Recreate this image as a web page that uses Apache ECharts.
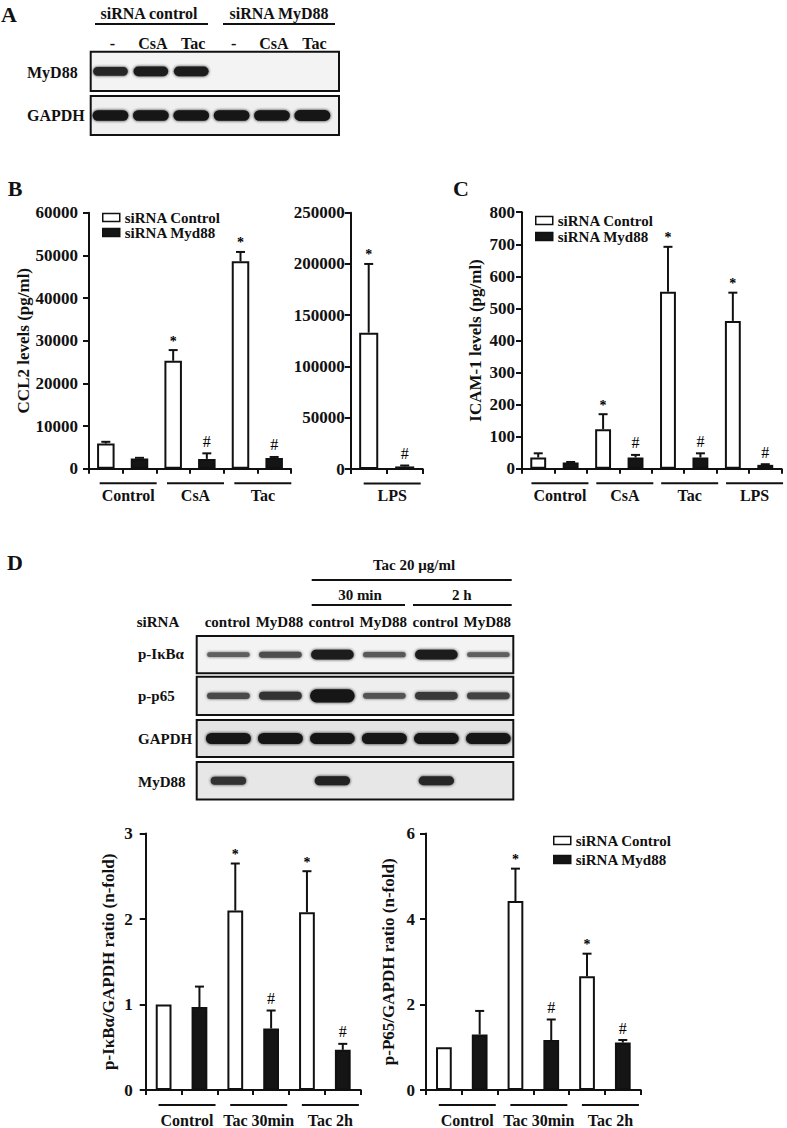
<!DOCTYPE html>
<html><head><meta charset="utf-8">
<script src="https://cdn.jsdelivr.net/npm/echarts@6/dist/echarts.min.js"></script>
<style>html,body{margin:0;padding:0;background:#fff}#c{width:787px;height:1128px}</style>
</head><body><div id="c"></div>
<script>
// ---------------- DATA ----------------
// Panel A (western blot, relative band intensities)
const headersA = ['siRNA control', 'siRNA MyD88'];
const laneLabelsA = ['-', 'CsA', 'Tac', '-', 'CsA', 'Tac'];
const blotRowsA = ['MyD88', 'GAPDH'];
const blotA_MyD88 = [0.85, 0.95, 0.95, 0, 0, 0];
const blotA_GAPDH = [1.05, 1.05, 1.05, 1.05, 1.05, 1.1];

// Panel B (CCL2, pg/ml)
const ccl2Groups = ['Control', 'CsA', 'Tac'];
const ccl2Ctrl = [5900, 25300, 48600];
const ccl2CtrlErr = [400, 2500, 2200];
const ccl2Myd = [2400, 2300, 2500];
const ccl2MydErr = [150, 1300, 250];
const ccl2CtrlSig = ['', '*', '*'];
const ccl2MydSig = ['', '#', '#'];

const lpsGroups = ['LPS'];
const lpsCtrl = [133000];
const lpsCtrlErr = [67000];
const lpsMyd = [2500];
const lpsMydErr = [900];
const lpsCtrlSig = ['*'];
const lpsMydSig = ['#'];

// Panel C (ICAM-1, pg/ml)
const icamGroups = ['Control', 'CsA', 'Tac', 'LPS'];
const icamCtrl = [35, 123, 552, 461];
const icamCtrlErr = [13, 47, 140, 88];
const icamMyd = [19, 35, 35, 12];
const icamMydErr = [2, 8, 13, 2];
const icamCtrlSig = ['', '*', '*', '*'];
const icamMydSig = ['', '#', '#', '#'];

// Panel D blots
const headerD = 'Tac 20 \u03bcg/ml';
const subHeadersD = ['30 min', '2 h'];
const laneTitleD = 'siRNA';
const laneLabelsD = ['control', 'MyD88', 'control', 'MyD88', 'control', 'MyD88'];
const blotRowsD = ['p-I\u03baB\u03b1', 'p-p65', 'GAPDH', 'MyD88'];
const blotD_pIkBa = [0.35, 0.5, 0.95, 0.4, 0.95, 0.35];
const blotD_pp65 = [0.55, 0.75, 1.4, 0.45, 0.7, 0.6];
const blotD_GAPDH = [1.15, 1.15, 1.1, 1.15, 1.1, 1.1];
const blotD_MyD88 = [0.75, 0, 0.9, 0, 0.85, 0];

// Panel D quantification (n-fold)
const ratioGroups = ['Control', 'Tac 30min', 'Tac 2h'];
const ikbCtrl = [1.0, 2.10, 2.08];
const ikbCtrlErr = [0, 0.55, 0.48];
const ikbMyd = [0.97, 0.72, 0.47];
const ikbMydErr = [0.24, 0.21, 0.07];
const p65Ctrl = [1.0, 4.42, 2.66];
const p65CtrlErr = [0, 0.76, 0.53];
const p65Myd = [1.30, 1.17, 1.11];
const p65MydErr = [0.55, 0.48, 0.06];
const ratioCtrlSig = ['', '*', '*'];
const ratioMydSig = ['', '#', '#'];

const seriesNames = ['siRNA Control', 'siRNA Myd88'];

// ---------------- BUILD ----------------
const F = '"Liberation Serif","Times New Roman",Times,serif';
const INK = '#111';
const option = { animation: false, grid: [], xAxis: [], yAxis: [], series: [], legend: [], graphic: [] };

function txt(s, x, y, size, opts) {
  opts = opts || {};
  option.graphic.push({
    type: 'text', x: x, y: y, silent: true,
    style: { text: s, font: (opts.weight || 'bold') + ' ' + size + 'px ' + F, fill: INK,
      align: opts.align || 'center', verticalAlign: 'middle' }
  });
}
function hline(x1, x2, y) {
  option.graphic.push({ type: 'line', silent: true, shape: { x1: x1, y1: y, x2: x2, y2: y },
    style: { stroke: INK, lineWidth: 2 } });
}
function addGrid(g) {
  option.grid.push(Object.assign({ containLabel: false, outerBoundsMode: 'none' }, g));
  return option.grid.length - 1;
}
function bandGray(I) {
  const g = Math.round(22 + 110 * (1 - Math.min(I, 1)));
  return 'rgb(' + g + ',' + g + ',' + g + ')';
}
function addBlot(rect, xmin, xmax, intens, bg, wf) {
  const gi = addGrid({ left: rect[0], top: rect[1], width: rect[2], height: rect[3], show: true,
    borderColor: INK, borderWidth: 2, backgroundColor: bg });
  const xi = option.xAxis.length, yi = option.yAxis.length;
  option.xAxis.push({ type: 'value', gridIndex: gi, min: xmin, max: xmax, show: false });
  option.yAxis.push({ type: 'value', gridIndex: gi, min: 0, max: 1, show: false });
  option.series.push({
    type: 'custom', xAxisIndex: xi, yAxisIndex: yi, silent: true,
    data: intens.map((v, i) => [i, v]),
    renderItem: function (params, api) {
      const I = api.value(1);
      if (!(I > 0)) return null;
      const c = api.coord([api.value(0), 0.5]);
      const unit = api.size([1, 0])[0];
      const w = unit * wf * (1 + 0.12 * Math.max(0, I - 1));
      const h = 2 + 8 * I;
      const col = bandGray(I);
      return { type: 'rect', shape: { x: c[0] - w / 2, y: c[1] - h / 2, width: w, height: h, r: h / 2 },
        style: { fill: col, shadowBlur: 3, shadowColor: col } };
    }
  });
  return { left: rect[0], width: rect[2], min: xmin, max: xmax };
}
function laneX(b, i) { return b.left + (i - b.min) / (b.max - b.min) * b.width; }

function addBarChart(c) {
  const gi = addGrid({ left: c.left, top: c.top, width: c.width, height: c.height });
  const xi = option.xAxis.length, yi = option.yAxis.length;
  const slots = [];
  c.groups.forEach(g => { slots.push(g + ' / ' + seriesNames[0]); slots.push(g + ' / ' + seriesNames[1]); });
  option.xAxis.push({
    type: 'category', gridIndex: gi, data: slots, boundaryGap: true,
    axisLine: { show: true, lineStyle: { color: INK, width: 2 } },
    axisTick: { show: true, interval: 0, alignWithLabel: false, length: 5, lineStyle: { color: INK, width: 2 } },
    axisLabel: { show: false }, splitLine: { show: false }
  });
  option.yAxis.push({
    type: 'value', gridIndex: gi, min: 0, max: c.max, interval: c.interval,
    axisLine: { show: true, lineStyle: { color: INK, width: 2 } },
    axisTick: { show: true, length: 6, lineStyle: { color: INK, width: 2 } },
    splitLine: { show: false },
    axisLabel: { fontFamily: F, fontWeight: 'bold', fontSize: 17, color: INK, margin: c.labelMargin,
      showMinLabel: true, showMaxLabel: true, formatter: v => String(v) },
    name: c.yName, nameLocation: 'middle', nameRotate: 90, nameGap: c.nameGap,
    nameTextStyle: { fontFamily: F, fontWeight: 'bold', fontSize: 17, color: INK }
  });
  const white = [], black = [], err = [], sigs = [];
  c.groups.forEach((g, k) => {
    white.push(c.ctrl[k], '-');
    black.push('-', c.myd[k]);
    err.push([2 * k, c.ctrl[k], c.ctrlErr[k]], [2 * k + 1, c.myd[k], c.mydErr[k]]);
    sigs.push(c.ctrlSig[k], c.mydSig[k]);
  });
  option.series.push({
    type: 'bar', name: seriesNames[0], xAxisIndex: xi, yAxisIndex: yi, data: white,
    barWidth: c.barWidth, barGap: '-100%', silent: true, z: 2,
    itemStyle: { color: '#fff', borderColor: INK, borderWidth: 2 }
  });
  option.series.push({
    type: 'bar', name: seriesNames[1], xAxisIndex: xi, yAxisIndex: yi, data: black,
    barWidth: c.barWidth, barGap: '-100%', silent: true, z: 2,
    itemStyle: { color: '#151515', borderColor: INK, borderWidth: 2 }
  });
  option.series.push({
    type: 'custom', xAxisIndex: xi, yAxisIndex: yi, data: err, silent: true, z: 4,
    itemStyle: { color: INK },
    renderItem: function (params, api) {
      const x = api.value(0), v = api.value(1), e = api.value(2);
      const sig = sigs[params.dataIndex];
      const p0 = api.coord([x, v]);
      const p1 = api.coord([x, v + e]);
      const ch = [];
      if (e > 0) {
        ch.push({ type: 'line', shape: { x1: p0[0], y1: p0[1], x2: p1[0], y2: p1[1] }, style: { stroke: INK, lineWidth: 2 } });
        ch.push({ type: 'line', shape: { x1: p1[0] - 4.5, y1: p1[1], x2: p1[0] + 4.5, y2: p1[1] }, style: { stroke: INK, lineWidth: 2 } });
      }
      if (sig) {
        const star = sig === '*';
        ch.push({ type: 'text', x: p1[0], y: p1[1] - (star ? 9 : 12),
          style: { text: sig, font: (star ? 'bold 14px ' : '16px ') + F, fill: '#000', stroke: null,
            align: 'center', verticalAlign: 'middle' } });
      }
      return { type: 'group', children: ch };
    }
  });
  // group annotations below the axis
  const band = c.width / slots.length;
  const base = c.top + c.height;
  c.groups.forEach((g, k) => {
    const cx = c.left + (2 * k + 1) * band + 5.5;
    hline(cx - 28.5, cx + 28.5, base + c.lineDy);
    txt(g, cx, base + c.labelDy, 16);
  });
}

function addLegend(left, top, gap) {
  option.legend.push({
    left: left, top: top, orient: 'vertical', itemWidth: 17, itemHeight: 8, itemGap: gap,
    selectedMode: false, padding: 0,
    textStyle: { fontFamily: F, fontWeight: 'bold', fontSize: 15, color: INK, lineHeight: 15 },
    data: [
      { name: seriesNames[0], icon: 'rect', itemStyle: { color: '#fff', borderColor: INK, borderWidth: 1.5 } },
      { name: seriesNames[1], icon: 'rect', itemStyle: { color: '#151515', borderColor: INK, borderWidth: 1.5 } }
    ]
  });
}

// ---- Panel A ----
txt('A', 9, 14, 22);
txt(headersA[0], 149, 13, 16); hline(95, 208, 24);
txt(headersA[1], 279, 13, 16); hline(223, 335, 24);
const bA1 = addBlot([90.7, 51.7, 248.3, 39.3], -0.49, 5.66, blotA_MyD88, '#f3f3f3', 0.86);
addBlot([90.7, 96, 248.3, 39], -0.49, 5.66, blotA_GAPDH, '#efefef', 0.88);
laneLabelsA.forEach((l, i) => txt(l, laneX(bA1, i) + 2, 43, 16));
txt(blotRowsA[0], 27, 72, 16, { align: 'left' });
txt(blotRowsA[1], 27, 115, 16, { align: 'left' });

// ---- Panel B ----
txt('B', 15, 188, 22);
addBarChart({ left: 89, top: 212.7, width: 202, height: 256, groups: ccl2Groups,
  ctrl: ccl2Ctrl, ctrlErr: ccl2CtrlErr, myd: ccl2Myd, mydErr: ccl2MydErr,
  ctrlSig: ccl2CtrlSig, mydSig: ccl2MydSig, max: 60000, interval: 10000,
  yName: 'CCL2 levels (pg/ml)', nameGap: 44, labelMargin: 11, barWidth: '52%', lineDy: 14.6, labelDy: 26.5 });
addBarChart({ left: 350.7, top: 212.7, width: 72, height: 256.3, groups: lpsGroups,
  ctrl: lpsCtrl, ctrlErr: lpsCtrlErr, myd: lpsMyd, mydErr: lpsMydErr,
  ctrlSig: lpsCtrlSig, mydSig: lpsMydSig, max: 250000, interval: 50000,
  yName: '', nameGap: 10, labelMargin: 6, barWidth: '53%', lineDy: 14.6, labelDy: 26.5 });
addLegend(102, 210, 0);

// ---- Panel C ----
txt('C', 461, 188, 22);
addBarChart({ left: 522, top: 212.2, width: 259.5, height: 256.5, groups: icamGroups,
  ctrl: icamCtrl, ctrlErr: icamCtrlErr, myd: icamMyd, mydErr: icamMydErr,
  ctrlSig: icamCtrlSig, mydSig: icamMydSig, max: 800, interval: 100,
  yName: 'ICAM-1 levels (pg/ml)', nameGap: 38, labelMargin: 7, barWidth: '49%', lineDy: 14.6, labelDy: 26.5 });
addLegend(535, 213, 1);

// ---- Panel D ----
txt('D', 15, 562, 22);
txt(headerD, 414, 565, 15); hline(311.7, 511.7, 580);
txt(subHeadersD[0], 360, 595, 15); hline(311.7, 405, 605);
txt(subHeadersD[1], 461.7, 595, 15); hline(413, 511.7, 605);
txt(laneTitleD, 158, 622, 15);
const bD1 = addBlot([196.7, 636, 316.6, 37.3], -0.61, 5.48, blotD_pIkBa, '#f3f3f3', 0.82);
addBlot([196.7, 676.7, 316.6, 38.3], -0.61, 5.48, blotD_pp65, '#eeeeee', 0.82);
addBlot([196.7, 720, 316.6, 37], -0.61, 5.48, blotD_GAPDH, '#e3e3e3', 0.85);
addBlot([196.7, 762, 316.6, 37.5], -0.61, 5.48, blotD_MyD88, '#e7e7e7', 0.68);
laneLabelsD.forEach((l, i) => txt(l, laneX(bD1, i) - 1, 622, 15));
[654, 696, 739, 782].forEach((y, i) => txt(blotRowsD[i], 138, y, 15, { align: 'left' }));

addBarChart({ left: 145.7, top: 833.6, width: 215, height: 256.4, groups: ratioGroups,
  ctrl: ikbCtrl, ctrlErr: ikbCtrlErr, myd: ikbMyd, mydErr: ikbMydErr,
  ctrlSig: ratioCtrlSig, mydSig: ratioMydSig, max: 3, interval: 1,
  yName: 'p-I\u03baB\u03b1/GAPDH ratio (n-fold)', nameGap: 29, labelMargin: 13, barWidth: '44%', lineDy: 15, labelDy: 30.5 });
addBarChart({ left: 426, top: 833.6, width: 214.7, height: 256.4, groups: ratioGroups,
  ctrl: p65Ctrl, ctrlErr: p65CtrlErr, myd: p65Myd, mydErr: p65MydErr,
  ctrlSig: ratioCtrlSig, mydSig: ratioMydSig, max: 6, interval: 2,
  yName: 'p-P65/GAPDH ratio (n-fold)', nameGap: 29, labelMargin: 11, barWidth: '44%', lineDy: 15, labelDy: 30.5 });
addLegend(553, 833, 4);

const chart = echarts.init(document.getElementById('c'), null, { renderer: 'svg' });
chart.setOption(option);
</script>
</body></html>
